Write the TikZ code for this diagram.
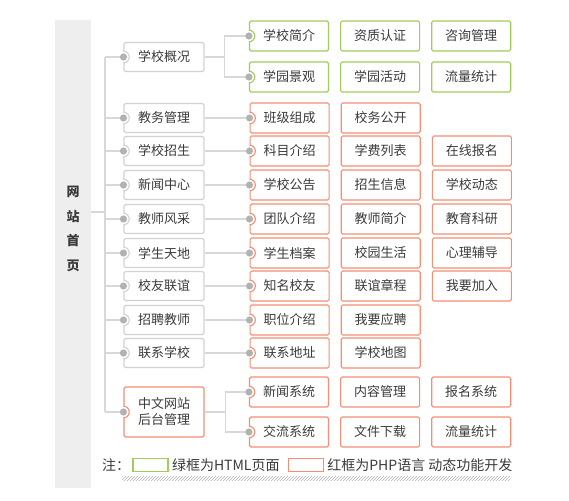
\documentclass[tikz,border=0pt]{standalone}
\usepackage{fontspec}
\setmainfont{Noto Sans CJK SC}
\usetikzlibrary{positioning, patterns}

\definecolor{htmlgreen}{RGB}{160,204,90}
\definecolor{phpred}{RGB}{245,142,115}
\definecolor{boxgray}{RGB}{210,210,210}
\definecolor{linkgray}{RGB}{216,216,216}
\definecolor{dotgray}{RGB}{178,178,178}
\definecolor{bargray}{RGB}{238,238,238}
\definecolor{textgray}{RGB}{58,58,58}

% half-round notch on the left edge of a box
\newcommand{\notch}[2]{%
  \fill[white] (#1.west) circle (5.8pt);
  \draw[#2, line width=1.1pt] ([yshift=5.8pt]#1.west) arc (90:-90:5.8pt);}

\begin{document}
\begin{tikzpicture}[x=1pt, y=-1pt]
	\tikzset{
		link/.style={draw=linkgray, line width=1.6pt},
		menu/.style={draw=boxgray, line width=1.1pt, rounded corners=1.5pt, minimum width=80pt, minimum height=29pt, inner sep=0pt, text=textgray, font=\fontsize{13pt}{16pt}\selectfont},
		html/.style={menu, draw=htmlgreen, minimum width=79pt, minimum height=30pt},
		php/.style={menu, draw=phpred, minimum width=79pt, minimum height=30pt},
		legend/.style={text=textgray, inner sep=0pt, font=\fontsize{14pt}{16pt}\selectfont},
		node distance=11pt
	}
	\useasboundingbox (0,0) rectangle (569,500);

	\node[fill=bargray, minimum width=36pt, minimum height=468pt, inner sep=0pt] (bar) at (73,254) {};
	\node[align=center, text=textgray, font=\fontsize{13pt}{24.5pt}\selectfont\bfseries] (home) at (73,229) {网\\站\\首\\页};

	% first level
	\node[menu] (overview) at (164,57) {学校概况};
	\node[menu] (affairs) at (164,118) {教务管理};
	\node[menu] (enroll) at (164,151) {学校招生};
	\node[menu] (news) at (164,185) {新闻中心};
	\node[menu] (teachers) at (164,219) {教师风采};
	\node[menu] (students) at (164,253) {学生天地};
	\node[menu] (alumni) at (164,286) {校友联谊};
	\node[menu] (jobs) at (164,320) {招聘教师};
	\node[menu] (contact) at (164,353) {联系学校};
	\node[menu, draw=phpred, minimum height=50pt, align=center] (admin) at (164,412) {中文网站\\后台管理};

	% second level
	\node[html] (intro) at (289,36) {学校简介};
	\node[html, right=of intro] (cert) {资质认证};
	\node[html, right=of cert] (consult) {咨询管理};
	\node[html] (scenery) at (289,77) {学园景观};
	\node[html, right=of scenery] (events) {学园活动};
	\node[html, right=of events] (traffic) {流量统计};

	\node[php, right=45pt of affairs] (classes) {班级组成};
	\node[php, right=of classes] (public) {校务公开};
	\node[php, right=45pt of enroll] (subjects) {科目介绍};
	\node[php, right=of subjects] (fees) {学费列表};
	\node[php, right=of fees] (signup) {在线报名};
	\node[php, right=45pt of news] (notices) {学校公告};
	\node[php, right=of notices] (admission) {招生信息};
	\node[php, right=of admission] (updates) {学校动态};
	\node[php, right=45pt of teachers] (team) {团队介绍};
	\node[php, right=of team] (profiles) {教师简介};
	\node[php, right=of profiles] (research) {教育科研};
	\node[php, right=45pt of students] (records) {学生档案};
	\node[php, right=of records] (campus) {校园生活};
	\node[php, right=of campus] (counsel) {心理辅导};
	\node[php, right=45pt of alumni] (famous) {知名校友};
	\node[php, right=of famous] (charter) {联谊章程};
	\node[php, right=of charter] (join) {我要加入};
	\node[php, right=45pt of jobs] (positions) {职位介绍};
	\node[php, right=of positions] (apply) {我要应聘};
	\node[php, right=45pt of contact] (address) {联系地址};
	\node[php, right=of address] (map) {学校地图};

	\node[php] (newssys) at (289,392) {新闻系统};
	\node[php, right=of newssys] (cms) {内容管理};
	\node[php, right=of cms] (regsys) {报名系统};
	\node[php] (chat) at (289,432) {交流系统};
	\node[php, right=of chat] (files) {文件下载};
	\node[php, right=of files] (stats) {流量统计};

	\foreach \n/\c in {overview/boxgray, affairs/boxgray, enroll/boxgray, news/boxgray, teachers/boxgray, students/boxgray, alumni/boxgray, jobs/boxgray, contact/boxgray, admin/phpred, intro/htmlgreen, scenery/htmlgreen, classes/phpred, subjects/phpred, notices/phpred, team/phpred, records/phpred, famous/phpred, positions/phpred, address/phpred, newssys/phpred, chat/phpred}
		\notch{\n}{\c};

	% connectors
	\coordinate (trunk) at (105,212);
	\draw[link] (bar.east |- trunk) -- (trunk);
	\draw[link] (trunk |- overview.west) -- (trunk |- admin.west);
	\foreach \n in {overview, affairs, enroll, news, teachers, students, alumni, jobs, contact, admin}
		\draw[link] (trunk |- \n.west) -- (\n.west);

	\draw[link] (overview.east) -- ([xshift=20pt]overview.east);
	\draw[link] (intro.west) -| ([xshift=20pt]overview.east) |- (scenery.west);
	\draw[link] (admin.east) -- ([xshift=21pt]admin.east);
	\draw[link] (newssys.west) -| ([xshift=21pt]admin.east) |- (chat.west);
	\foreach \a/\b in {affairs/classes, enroll/subjects, news/notices, teachers/team, students/records, alumni/famous, jobs/positions, contact/address}
		\draw[link] (\a.east) -- (\b.west);

	\foreach \n in {overview, affairs, enroll, news, teachers, students, alumni, jobs, contact, admin, intro, scenery, classes, subjects, notices, team, records, famous, positions, address, newssys, chat}
		\fill[dotgray] (\n.west) circle (3.6pt);

	% legend
	\node[legend, anchor=west] (note) at (102,465) {注：};
	\node[draw=htmlgreen, line width=1.4pt, minimum width=35pt, minimum height=13pt, inner sep=0pt, right=2pt of note] (greenkey) {};
	\node[legend, right=3pt of greenkey] (greentext) {绿框为HTML页面};
	\node[draw=phpred, line width=1.4pt, minimum width=35pt, minimum height=13pt, inner sep=0pt, right=8pt of greentext] (redkey) {};
	\node[legend, right=3pt of redkey] (redtext) {红框为PHP语言 动态功能开发};
	\fill[pattern=north east lines, pattern color=black!30] (122,476) rectangle (510,480);
\end{tikzpicture}
\end{document}
